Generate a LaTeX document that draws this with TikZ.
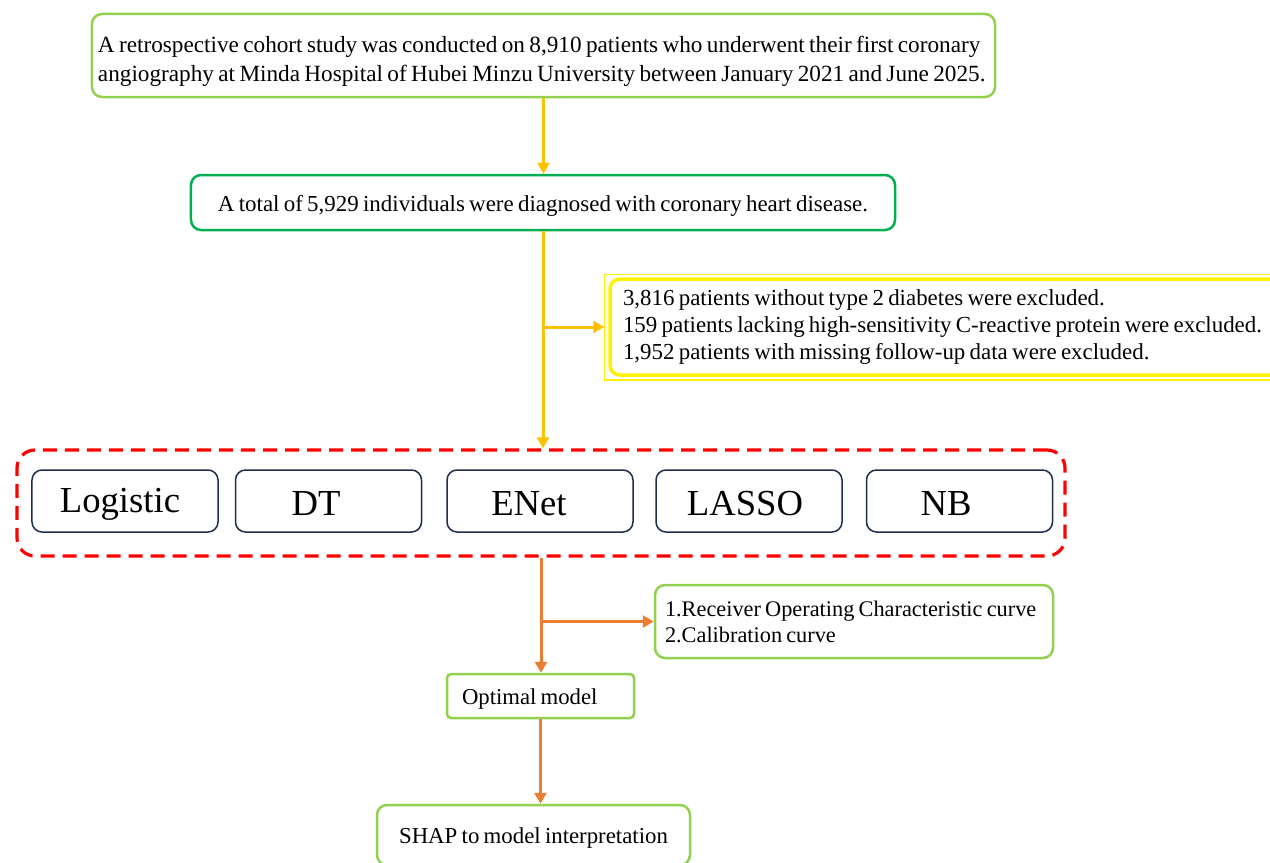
\documentclass[tikz,border=0pt]{standalone}
\usepackage{fontspec}
\setmainfont{Liberation Serif}[WordSpace=0.75]
\usetikzlibrary{arrows.meta,positioning,calc}
\definecolor{lgreen}{HTML}{92D050}
\definecolor{dgreen}{HTML}{00B050}
\definecolor{amber}{HTML}{FFC000}
\definecolor{orng}{HTML}{ED7D31}
\definecolor{navy}{HTML}{1F2E4F}
\newcommand{\tallstrut}[1]{\rule{0pt}{#1}}

\begin{document}
\begin{tikzpicture}[x=1bp, y=-1bp, every node/.style={font=\fontsize{23}{30}\selectfont, inner sep=0pt},
		box/.style={draw=lgreen, line width=2.5bp, rounded corners=10bp},
		model/.style={draw=navy, line width=1.5bp, rounded corners=10bp, minimum width=186bp, minimum height=62bp, font=\fontsize{36.8}{36.8}\selectfont},
		yarr/.style={amber, line width=3bp, -{Triangle[length=11bp,width=12bp]}},
		oarr/.style={orng, line width=3bp, -{Triangle[length=11bp,width=12bp]}}]
	\clip (0,0) rectangle (1270,863);
	\fill[white] (0,0) rectangle (1270,863);
	% cohort and selection
	\node[box, minimum width=903bp, minimum height=83bp, text width=891bp, align=flush left, font=\fontsize{23.3}{30}\selectfont] (cohort) at (543.5,55.5)
		{\tallstrut{28bp}A retrospective cohort study was conducted on 8,910 patients who underwent their first coronary\\angiography at Minda Hospital of Hubei Minzu University between January 2021 and June 2025.};
	\node[box, draw=dgreen, minimum width=704bp, minimum height=55bp] (chd) at (543,202.5)
		{\tallstrut{22bp}A total of 5,929 individuals were diagnosed with coronary heart disease.};
	\node[draw=yellow, line width=3.5bp, rounded corners=10bp, minimum width=676bp, minimum height=96bp, text width=650bp, align=flush left,
		font=\fontsize{23}{27.5}\selectfont] (excl) at (948,327)
		{3,816 patients without type 2 diabetes were excluded.\\159 patients lacking high-sensitivity C-reactive protein were excluded.\\1,952 patients with missing follow-up data were excluded.};
	\draw[yellow, line width=1.5bp] ([shift={(-4,-3)}]excl.north west) rectangle ([shift={(4,3)}]excl.south east);
	% candidate models
	\node[draw=red, dashed, dash pattern=on 14bp off 8bp, line width=3.2bp, rounded corners=18bp, minimum width=1048bp, minimum height=106bp] (pool) at (541,503) {};
	\node[model] (logit) at (125,501) {\tallstrut{30bp}Logistic\kern10bp};
	\node[model] (dt) at (328.5,501) {\tallstrut{30bp}DT\kern25bp};
	\node[model] (enet) at (540,501) {\tallstrut{30bp}ENet\kern22bp};
	\node[model] (lasso) at (749,501) {\tallstrut{30bp}LASSO\kern8bp};
	\node[model] (nb) at (959.5,501) {\tallstrut{30bp}NB\kern27bp};
	% evaluation and interpretation
	\node[box, minimum width=398bp, minimum height=73bp, text width=378bp, align=flush left, font=\fontsize{22.4}{26}\selectfont] (roc) at (854,621.5)
		{1.Receiver Operating Characteristic curve\\2.Calibration curve};
	\node[box, rounded corners=4bp, minimum width=187bp, minimum height=44bp, text width=157bp, align=flush left, font=\fontsize{22.8}{30}\selectfont] (optimal) at (540.5,696)
		{\tallstrut{22bp}Optimal model};
	\node[box, minimum width=313bp, minimum height=60bp, font=\fontsize{22.9}{30}\selectfont] (shap) at (533.5,835) {\tallstrut{21bp}SHAP to model interpretation};
	\draw[yarr] (cohort.south) -- (cohort.south |- chd.north);
	\draw[yarr] (chd.south) -- (chd.south |- pool.north);
	\draw[yarr] (chd.south |- excl.west) -- ([xshift=-4bp]excl.west);
	\draw[oarr] (pool.south) -- (pool.south |- optimal.north);
	\draw[oarr] (pool.south |- roc.west) -- (roc.west);
	\draw[oarr] (optimal.south) -- (optimal.south |- shap.north);
\end{tikzpicture}
\end{document}
